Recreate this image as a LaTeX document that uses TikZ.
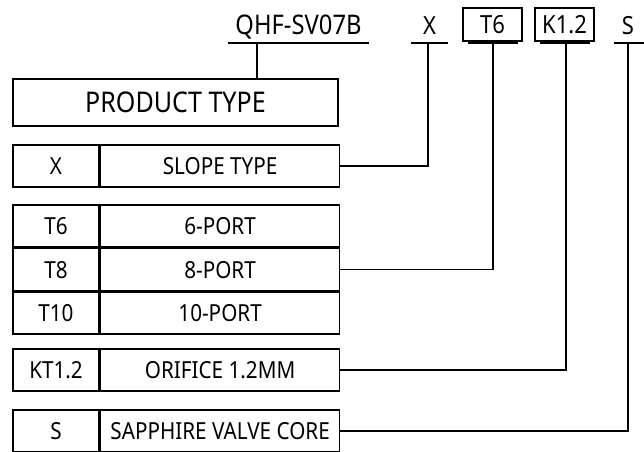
\documentclass[tikz,border=0pt]{standalone}
\usepackage{fontspec}
\setmainfont[FakeStretch=0.88]{Noto Sans}
\usetikzlibrary{positioning}

\tikzset{
  link/.style={line width=1.6pt},
  cell/.style={draw, line width=1.6pt, minimum height=42pt, inner sep=0pt,
    font=\fontsize{23.5}{23.5}\selectfont},
  codecell/.style={cell, minimum width=86pt},
  desccell/.style={cell, minimum width=239pt, right=0pt of #1},
  codelabel/.style={inner sep=0pt, anchor=base, font=\fontsize{25}{25}\selectfont},
  codebox/.style={draw, line width=1.6pt, inner sep=0pt, minimum width=59pt,
    minimum height=33pt, font=\fontsize{25}{25}\selectfont}
}

\begin{document}
\begin{tikzpicture}[x=1pt,y=-1pt]
\useasboundingbox (0,0) rectangle (644,451);

% model code on top
\node[codelabel, font=\fontsize{27}{27}\selectfont] (qhf) at (298.5,34) {QHF-SV07B};
\node[codelabel] (xcode) at (429.5,34) {X};
\node[codebox] (tcode) at (492.5,24.5) {T6};
\node[codebox] (kcode) at (564.5,24.5) {K1.2};
\node[codelabel] (scode) at (628,34) {S};

% underlines
\draw[link] (228,43) -- (369,43);
\draw[link] (411,43) -- (448,43);
\draw[link] (468,43) -- (518,43);
\draw[link] (540,43) -- (590,43);
\draw[link] (614,43) -- (644,43);
\coordinate (qhfU) at (257,43);
\coordinate (xU) at (428,43);
\coordinate (tU) at (493,43);
\coordinate (kU) at (566,43);
\coordinate (sU) at (628,43);

% product type
\node[cell, minimum width=325pt, minimum height=47pt,
  font=\fontsize{28.5}{28.5}\selectfont] (prod) at (175.5,102.5) {PRODUCT TYPE};

% table rows
\node[codecell] (slopeC) at (56,166) {X};
\node[desccell=slopeC] (slopeD) {SLOPE TYPE};

\node[codecell] (port6C) at (56,226) {T6};
\node[desccell=port6C] (port6D) {6-PORT};
\node[codecell, below=0pt of port6C] (port8C) {T8};
\node[desccell=port8C] (port8D) {8-PORT};
\node[codecell, below=0pt of port8C] (port10C) {T10};
\node[desccell=port10C] (port10D) {10-PORT};

\node[codecell] (orifC) at (56,370) {KT1.2};
\node[desccell=orifC] (orifD) {ORIFICE 1.2MM};

\node[codecell] (coreC) at (56,431) {S};
\node[desccell=coreC] (coreD) {SAPPHIRE VALVE CORE};

% connectors
\draw[link] (qhfU) -- (qhfU |- prod.north);
\draw[link] (slopeD.east) -| (xU);
\draw[link] (port8D.east) -| (tU);
\draw[link] (orifD.east) -| (kU);
\draw[link] (coreD.east) -| (sU);
\end{tikzpicture}
\end{document}
